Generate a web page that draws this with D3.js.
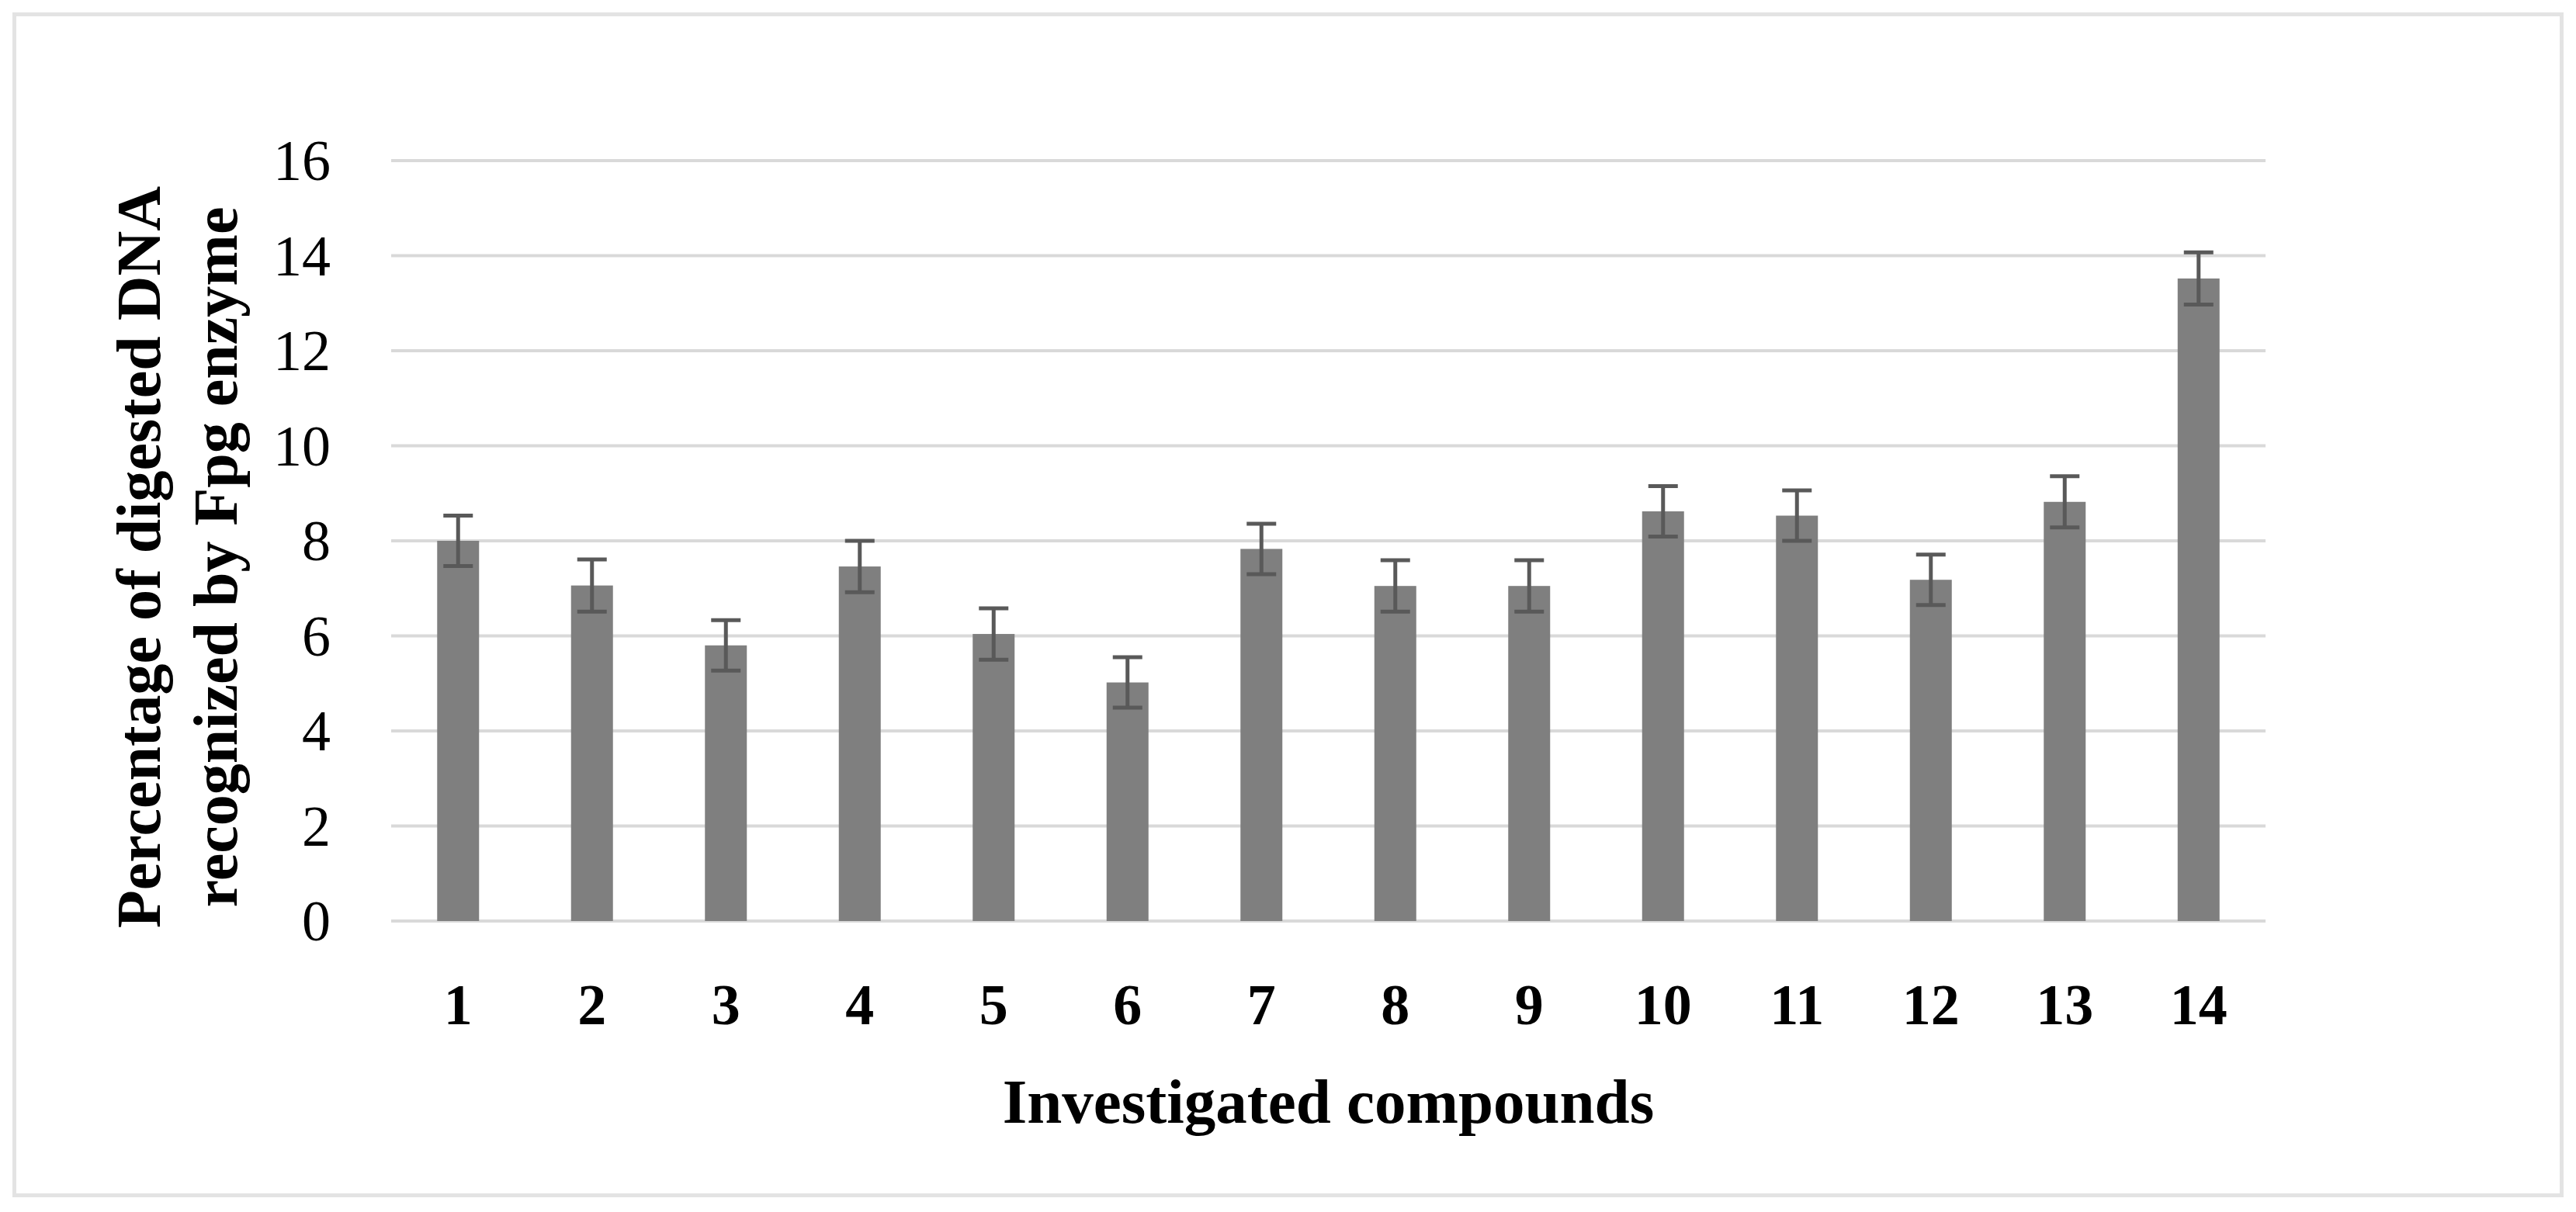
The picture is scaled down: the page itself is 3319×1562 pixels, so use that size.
<!DOCTYPE html>
<html>
<head>
<meta charset="utf-8">
<script src="https://cdn.jsdelivr.net/npm/d3@7.9.0/dist/d3.min.js"></script>
<style>
  html, body { margin: 0; padding: 0; background: #fff; }
  svg { display: block; }
  text { font-family: 'Liberation Serif', 'DejaVu Serif', serif; fill: #000; }
</style>
</head>
<body>
<svg id="chart" width="3319" height="1562"></svg>
<script>
// data
const compounds = ['1', '2', '3', '4', '5', '6', '7', '8', '9', '10', '11', '12', '13', '14'];
const values = [8.0, 7.06, 5.8, 7.46, 6.04, 5.02, 7.83, 7.05, 7.05, 8.62, 8.53, 7.18, 8.82, 13.52];
const errors = [0.53, 0.55, 0.53, 0.54, 0.54, 0.53, 0.53, 0.54, 0.54, 0.53, 0.53, 0.53, 0.54, 0.55];
const yTicks = [0, 2, 4, 6, 8, 10, 12, 14, 16];

const svg = d3.select('#chart');

// outer frame
svg.append('rect')
  .attr('x', 18.5).attr('y', 18.5)
  .attr('width', 3282).attr('height', 1522)
  .attr('fill', '#fff')
  .attr('stroke', '#e3e3e3')
  .attr('stroke-width', 5);

let x = d3.scaleBand()
  .domain(compounds)
  .range([504, 2919])
  .paddingInner(0.687)
  .paddingOuter(0.3435);

let y = d3.scaleLinear().domain([0, 16]).range([1187, 207]);

// gridlines
svg.append('g')
  .selectAll('line')
  .data(yTicks)
  .join('line')
  .attr('x1', 504).attr('x2', 2919)
  .attr('y1', (d) => y(d)).attr('y2', (d) => y(d))
  .attr('stroke', '#d9d9d9')
  .attr('stroke-width', 4);

// y tick labels
svg.append('g')
  .selectAll('text')
  .data(yTicks)
  .join('text')
  .attr('x', 426)
  .attr('y', (d) => y(d))
  .attr('dy', '0.34em')
  .attr('text-anchor', 'end')
  .attr('font-size', 74)
  .text((d) => d);

// bars
svg.append('g')
  .selectAll('rect')
  .data(values)
  .join('rect')
  .attr('x', (d, i) => x(compounds[i]))
  .attr('y', (d) => y(d))
  .attr('width', x.bandwidth())
  .attr('height', (d) => y(0) - y(d))
  .attr('fill', '#7f7f7f');

// error bars
let capHalf = 19;
let err = svg.append('g')
  .attr('stroke', '#595959')
  .attr('stroke-width', 5);

values.forEach((v, i) => {
  let cx = x(compounds[i]) + x.bandwidth() / 2;
  let top = y(v + errors[i]);
  let bot = y(v - errors[i]);
  err.append('line').attr('x1', cx).attr('x2', cx).attr('y1', top).attr('y2', bot);
  err.append('line').attr('x1', cx - capHalf).attr('x2', cx + capHalf).attr('y1', top).attr('y2', top);
  err.append('line').attr('x1', cx - capHalf).attr('x2', cx + capHalf).attr('y1', bot).attr('y2', bot);
});

// x tick labels
svg.append('g')
  .selectAll('text')
  .data(compounds)
  .join('text')
  .attr('x', (d) => x(d) + x.bandwidth() / 2)
  .attr('y', 1320)
  .attr('text-anchor', 'middle')
  .attr('font-size', 74)
  .attr('font-weight', 'bold')
  .text((d) => d);

// axis titles
svg.append('text')
  .attr('x', 1711.5)
  .attr('y', 1447)
  .attr('text-anchor', 'middle')
  .attr('font-size', 81)
  .attr('font-weight', 'bold')
  .text('Investigated compounds');

let yTitle = svg.append('text')
  .attr('transform', 'translate(0,718) rotate(-90)')
  .attr('text-anchor', 'middle')
  .attr('font-size', 80)
  .attr('font-weight', 'bold');

yTitle.append('tspan').attr('x', 0).attr('y', 206).text('Percentage of digested DNA');
yTitle.append('tspan').attr('x', 0).attr('y', 305).text('recognized by Fpg enzyme');
</script>
</body>
</html>
